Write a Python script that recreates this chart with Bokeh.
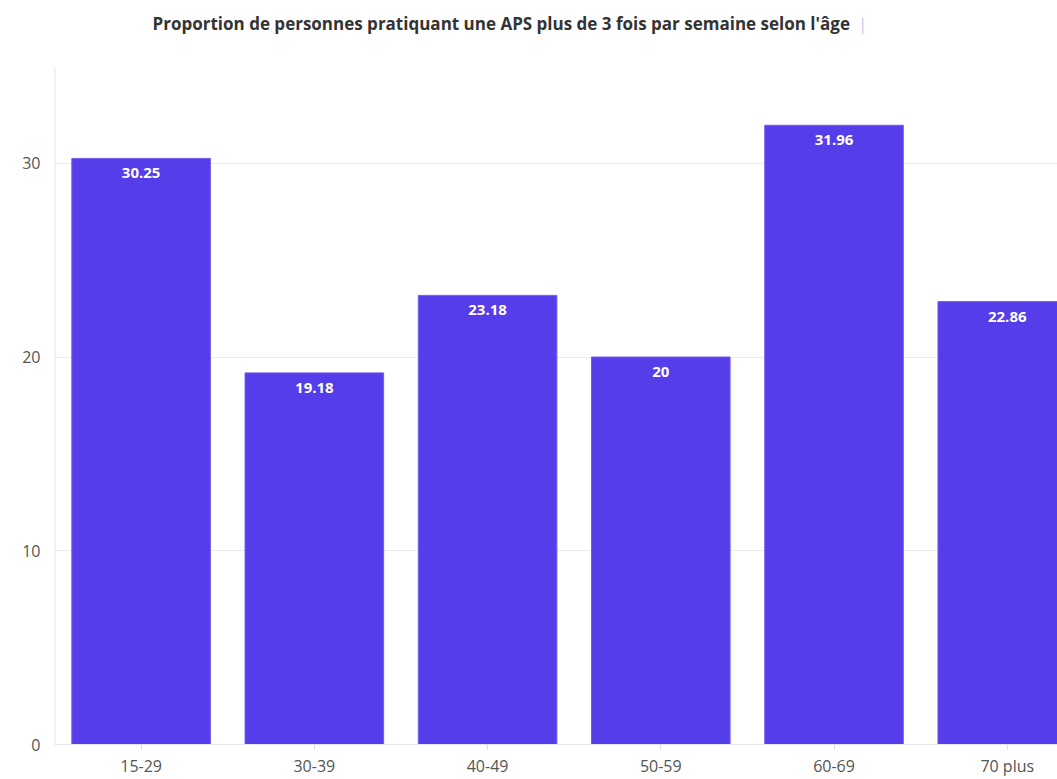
from bokeh.plotting import figure
from bokeh.models import Range1d, FixedTicker, ColumnDataSource, Label
from bokeh.embed import file_html
from bokeh.resources import INLINE
from bokeh.core.properties import value

# Share of people doing physical activity more than 3 times a week, by age group
age_groups = ["15-29", "30-39", "40-49", "50-59", "60-69", "70 plus"]
shares = [30.25, 19.18, 23.18, 20, 31.96, 22.86]
y_ticks = [0, 10, 20, 30]
y_max = 35
title = "Proportion de personnes pratiquant une APS plus de 3 fois par semaine selon l'âge"

BAR = "#553DE9"
FONT = "Open Sans"

# the frame runs up to the top of the canvas so the title can sit inside it;
# the value axis itself only spans 0..y_max
X_END = 5.79
Y_END = 38.4

positions = [i + 0.5 for i in range(len(age_groups))]
src = ColumnDataSource(dict(
    x=positions,
    top=shares,
    label=[f"{v:g}" for v in shares],
))

p = figure(
    width=1057, height=779,
    x_range=Range1d(0, X_END), y_range=Range1d(0, Y_END),
    output_backend="svg", toolbar_location=None,
    min_border_left=54, min_border_right=0,
    min_border_top=0, min_border_bottom=33,
)
p.outline_line_color = None
p.background_fill_color = "white"
p.border_fill_color = "white"

# left edge of the value axis
p.segment(x0=[0], y0=[0], x1=[0], y1=[y_max], line_color="#e6e6e6", line_width=2)

p.vbar(x="x", top="top", bottom=0, width=0.8, source=src,
       fill_color=BAR, line_color="#6f5cf0", line_width=1)

p.text(x="x", y="top", text="label", source=src,
       text_align="center", text_baseline="top", y_offset=10,
       text_color="white", text_font=value(FONT), text_font_style="bold",
       text_font_size="15px")

# x axis: age groups
p.xaxis.ticker = FixedTicker(ticks=positions)
p.xaxis.major_label_overrides = {pos: lab for pos, lab in zip(positions, age_groups)}
p.xaxis.minor_tick_line_color = None
p.xaxis.major_tick_in = 0
p.xaxis.major_tick_out = 5
p.xaxis.major_tick_line_color = "#dddddd"
p.xaxis.axis_line_color = "#e6e6e6"
p.xaxis.major_label_text_font = FONT
p.xaxis.major_label_text_font_size = "16px"
p.xaxis.major_label_text_color = "#555555"
p.xaxis.major_label_standoff = 5

# y axis
p.yaxis.ticker = FixedTicker(ticks=y_ticks)
p.yaxis.minor_tick_line_color = None
p.yaxis.major_tick_line_color = None
p.yaxis.major_tick_out = 0
p.yaxis.major_tick_in = 0
p.yaxis.axis_line_color = None
p.yaxis.major_label_text_font = FONT
p.yaxis.major_label_text_font_size = "16px"
p.yaxis.major_label_text_color = "#555555"
p.yaxis.major_label_standoff = 14

p.xgrid.grid_line_color = None
p.ygrid.ticker = FixedTicker(ticks=y_ticks)
p.ygrid.grid_line_color = "#ececec"

# chart title
p.add_layout(Label(x=0.566, y=37.2,
                   text=title, text_color="#333333", text_font=FONT,
                   text_font_size="17px", text_font_style="bold",
                   text_align="left", text_baseline="middle"))

# small legend swatch after the title
p.add_layout(Label(x=4.665, y=37.2,
                   text="|", text_color="#c9c1fa", text_font=FONT,
                   text_font_size="16px",
                   text_align="center", text_baseline="middle"))

open("out.html", "w").write(file_html(p, INLINE))
